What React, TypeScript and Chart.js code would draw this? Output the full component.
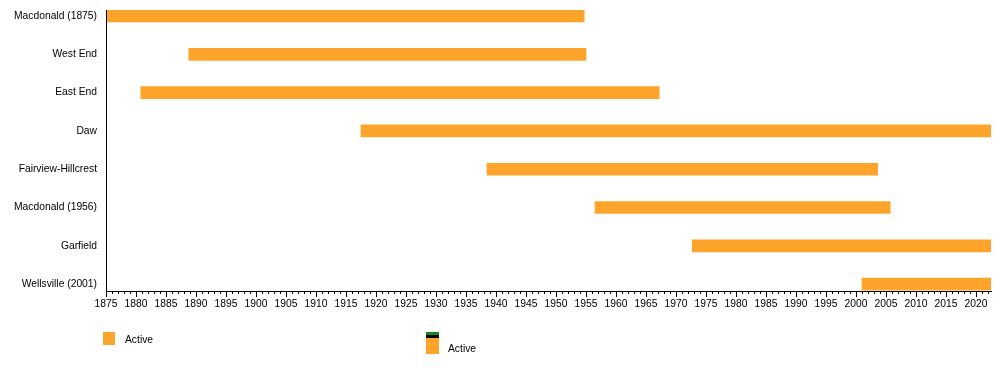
import React, { useEffect, useRef } from "react";
import { Chart, registerables } from "chart.js";

Chart.register(...registerables);

const categories = [
  "Macdonald (1875)",
  "West End",
  "East End",
  "Daw",
  "Fairview-Hillcrest",
  "Macdonald (1956)",
  "Garfield",
  "Wellsville (2001)",
];
const startYears = [1875, 1888.8, 1880.8, 1917.5, 1938.5, 1956.5, 1972.7, 2001];
const endYears = [1954.7, 1955, 1967.2, 2022.5, 2003.6, 2005.7, 2022.5, 2022.5];
const axisMin = 1875;
const axisMax = 2022.5;
const majorStep = 5;
const minorStep = 1;
const legendLabel = "Active";

const ORANGE = "#FFA42B";
const FONT = "'Liberation Sans', Arial, Helvetica, sans-serif";

export default function App() {
  const ref = useRef<HTMLCanvasElement | null>(null);

  useEffect(() => {
    if (!ref.current) return;
    const data = categories.map((_, i) => ({ x: [startYears[i], endYears[i]], y: i }));
    const chart = new Chart(ref.current, {
      type: "bar",
      data: {
        datasets: [
          {
            label: legendLabel,
            data: data as any,
            backgroundColor: ORANGE,
            borderWidth: 0,
            barThickness: 12,
          },
        ],
      },
      options: {
        indexAxis: "y",
        responsive: false,
        animation: false,
        layout: { padding: { top: 10, right: 9, left: 0, bottom: 0 } },
        plugins: { legend: { display: false }, tooltip: { enabled: false } },
        scales: {
          y: {
            type: "linear",
            reverse: true,
            offset: false,
            min: -0.157,
            max: 7.18,
            afterBuildTicks: (s: any) => {
              s.ticks = categories.map((_, i) => ({ value: i }));
            },
            afterFit: (s: any) => {
              s.width = 106;
              s.paddingTop = 0;
              s.paddingBottom = 0;
            },
            grid: { display: false, drawTicks: false, offset: false },
            border: { display: true, color: "#000", width: 1, z: 1 } as any,
            ticks: {
              padding: 9,
              color: "#000",
              font: { family: FONT, size: 10.3 },
              callback: (v: any) => categories[v] ?? "",
            },
          },
          x2: {
            type: "linear",
            position: "bottom",
            weight: 0,
            min: axisMin,
            max: axisMax,
            ticks: { display: false, stepSize: minorStep, includeBounds: false } as any,
            afterFit: (s: any) => {
              s.height = 0;
              s.paddingLeft = 0;
              s.paddingRight = 0;
            },
            grid: { drawOnChartArea: false, drawTicks: true, tickLength: 3, tickColor: "#000", lineWidth: 1 },
            border: { display: false },
          },
          x: {
            type: "linear",
            position: "bottom",
            weight: 1,
            min: axisMin,
            max: axisMax,
            afterFit: (s: any) => {
              s.height = 99;
              s.paddingLeft = 0;
              s.paddingRight = 0;
            },
            grid: { drawOnChartArea: false, drawTicks: true, tickLength: 6, tickColor: "#000", lineWidth: 1 },
            border: { display: true, color: "#000", width: 1, z: 1 } as any,
            ticks: {
              stepSize: majorStep,
              includeBounds: false,
              maxRotation: 0,
              autoSkip: false,
              padding: 1,
              color: "#000",
              font: { family: FONT, size: 10.3 },
              callback: (v: any) => String(v),
            } as any,
          },
        },
      },
    });
    return () => chart.destroy();
  }, []);

  const textStyle: React.CSSProperties = {
    position: "absolute",
    fontFamily: FONT,
    fontSize: "10.3px",
    color: "#000",
    lineHeight: "12px",
    whiteSpace: "nowrap",
  };

  return (
    <div style={{ position: "absolute", left: 0, top: 0, width: 1000, height: 390, background: "#fff" }}>
      <canvas ref={ref} width={1000} height={390} style={{ position: "absolute", left: 0, top: 0, width: 1000, height: 390 }} />
      <div style={{ position: "absolute", left: 103, top: 332, width: 12, height: 13, background: ORANGE }} />
      <div style={{ ...textStyle, left: 125, top: 334 }}>{legendLabel}</div>
      <div style={{ position: "absolute", left: 426, top: 332, width: 13, height: 2.5, background: "#138a13" }} />
      <div style={{ position: "absolute", left: 426, top: 334.5, width: 13, height: 3, background: "#000" }} />
      <div style={{ position: "absolute", left: 426, top: 337.5, width: 13, height: 16.5, background: ORANGE }} />
      <div style={{ ...textStyle, left: 448, top: 343 }}>{legendLabel}</div>
    </div>
  );
}
